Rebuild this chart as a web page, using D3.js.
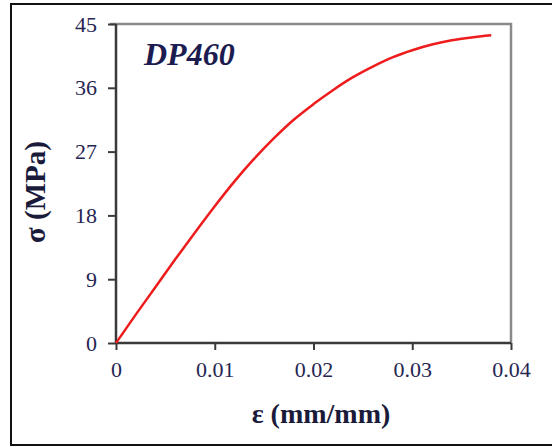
<!DOCTYPE html>
<html><head><meta charset="utf-8">
<script src="https://cdn.jsdelivr.net/npm/d3@7"></script>
<style>html,body{margin:0;padding:0;background:#fff;}svg{display:block;}</style>
</head><body>
<svg id="chart" width="552" height="447"></svg>
<script>
const strain = [0, 0.002, 0.004, 0.006, 0.008, 0.010, 0.012, 0.014, 0.016, 0.018, 0.020, 0.022, 0.024, 0.026, 0.028, 0.030, 0.032, 0.034, 0.036, 0.038];
const stress = [0, 4.0, 7.9, 11.8, 15.6, 19.3, 22.8, 26.0, 28.9, 31.5, 33.7, 35.7, 37.5, 39.0, 40.3, 41.3, 42.1, 42.7, 43.1, 43.4];
const xTicks = [0, 0.01, 0.02, 0.03, 0.04];
const yTicks = [0, 9, 18, 27, 36, 45];
const xTickLabels = ["0", "0.01", "0.02", "0.03", "0.04"];
const seriesLabel = "DP460";
const xTitle = "ε (mm/mm)";
const yTitle = "σ (MPa)";

const svg = d3.select("#chart");
const L = 116, R = 511, T = 24, B = 343;
const x = d3.scaleLinear().domain([0, 0.04]).range([L, R]);
const y = d3.scaleLinear().domain([0, 45]).range([B, T]);
const textCol = "#262652";
const serif = "'Liberation Serif','Times New Roman',serif";

// outer frame
svg.append("path").attr("d", "M560,4 H11 V445 H560")
  .attr("fill", "none").attr("stroke", "#111").attr("stroke-width", 2);

// top and right frame of plot
svg.append("path").attr("d", `M${L - 6},${T} H${R} V${B}`)
  .attr("fill", "none").attr("stroke", "#8a8a8a").attr("stroke-width", 2.5);

// axes
const yAxis = d3.axisLeft(y).tickValues(yTicks).tickSize(8).tickPadding(11).tickFormat(d3.format("d"));
const gy = svg.append("g").attr("transform", `translate(${L},0)`).call(yAxis);
const xAxis = d3.axisBottom(x).tickValues(xTicks).tickSize(7).tickPadding(11).tickFormat((d, i) => xTickLabels[i]);
const gx = svg.append("g").attr("transform", `translate(0,${B})`).call(xAxis);
[gx, gy].forEach(g => {
  g.select(".domain").attr("stroke", "#3a3a3a").attr("stroke-width", 2.5);
  g.selectAll(".tick line").attr("stroke", "#3a3a3a").attr("stroke-width", 2);
  g.selectAll(".tick text").attr("fill", textCol)
    .style("font-family", serif).style("font-size", "22px");
});
gy.select(".domain").attr("d", `M0,${T}V${B}`);
gx.select(".domain").attr("d", `M${L},0H${R}`);

// curve
const line = d3.line().x((d, i) => x(strain[i])).y(d => y(d)).curve(d3.curveMonotoneX);
svg.append("path").datum(stress).attr("d", line)
  .attr("fill", "none").attr("stroke", "#ee1c1c").attr("stroke-width", 2.5);

// series label
svg.append("text").attr("x", 144).attr("y", 65).text(seriesLabel)
  .attr("fill", "#1c1c50").style("font-family", serif)
  .style("font-size", "32px").style("font-weight", "bold").style("font-style", "italic");

// axis titles
svg.append("text").attr("x", 321).attr("y", 423).attr("text-anchor", "middle").text(xTitle)
  .attr("fill", "#1a1a3a").style("font-family", serif)
  .style("font-size", "28px").style("font-weight", "bold");
svg.append("text").attr("transform", "translate(45,192) rotate(-90)").attr("text-anchor", "middle").text(yTitle)
  .attr("fill", "#1a1a3a").style("font-family", serif)
  .style("font-size", "29px").style("font-weight", "bold");
</script>
</body></html>
